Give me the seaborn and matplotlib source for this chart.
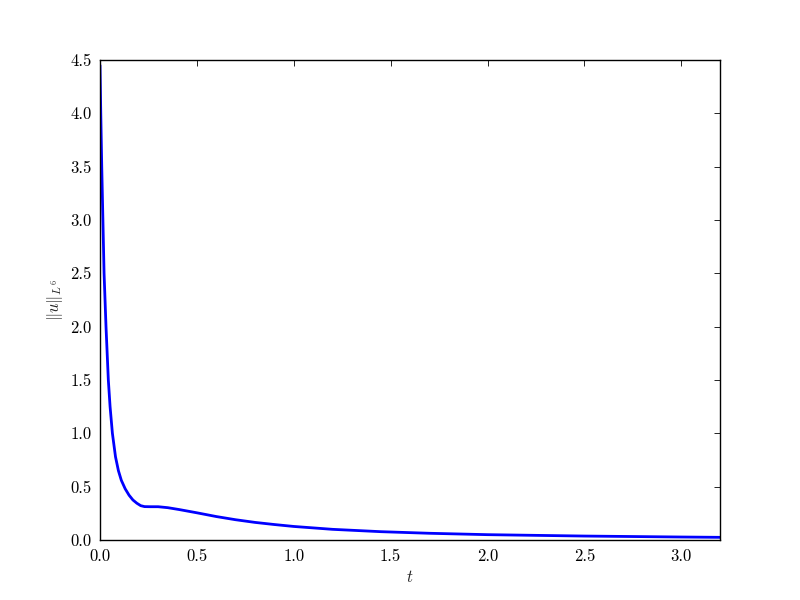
import numpy as np
import pandas as pd
import matplotlib
matplotlib.use("Agg")
import matplotlib.pyplot as plt
import seaborn as sns

# values
t = [0.0, 0.004, 0.009, 0.015, 0.021, 0.031, 0.043, 0.052, 0.064, 0.080,
     0.095, 0.11, 0.13, 0.15, 0.17, 0.19, 0.21, 0.23, 0.26, 0.30,
     0.35, 0.41, 0.50, 0.60, 0.70, 0.80, 0.90, 1.00, 1.20, 1.45,
     1.70, 2.00, 2.50, 3.00, 3.20]
u_norm = [4.45, 4.0, 3.5, 3.0, 2.5, 2.0, 1.5, 1.25, 1.0, 0.78,
          0.65, 0.56, 0.48, 0.42, 0.375, 0.345, 0.322, 0.313, 0.312, 0.312,
          0.303, 0.285, 0.255, 0.220, 0.190, 0.165, 0.145, 0.127, 0.100, 0.078,
          0.063, 0.050, 0.037, 0.028, 0.025]

x_ticks = [0.0, 0.5, 1.0, 1.5, 2.0, 2.5, 3.0]
y_ticks = [0.0, 0.5, 1.0, 1.5, 2.0, 2.5, 3.0, 3.5, 4.0, 4.5]

sns.set_theme(style="white")
plt.rcParams.update({
    "font.family": ["serif"],
    "font.serif": ["cmr10", "DejaVu Serif"],
    "mathtext.fontset": "cm",
    "axes.formatter.use_mathtext": True,
    "axes.edgecolor": "black",
    "axes.linewidth": 1.0,
    "xtick.direction": "in",
    "ytick.direction": "in",
    "xtick.top": True,
    "ytick.right": True,
    "xtick.major.size": 4,
    "ytick.major.size": 4,
    "xtick.major.width": 0.6,
    "ytick.major.width": 0.6,
    "xtick.major.pad": 6,
    "ytick.major.pad": 6,
    "xtick.labelsize": 12,
    "ytick.labelsize": 12,
    "axes.labelsize": 12,
    "xtick.color": "black",
    "ytick.color": "black",
})

df = pd.DataFrame({"t": t, "u": u_norm})

fig = plt.figure(figsize=(8, 6), dpi=100)
ax = fig.add_axes([0.125, 0.1, 0.775, 0.8])
sns.lineplot(data=df, x="t", y="u", color="#0000ff", linewidth=2, ax=ax)

ax.set_xlim(0, 3.2)
ax.set_ylim(0, 4.5)
ax.set_xticks(x_ticks)
ax.set_yticks(y_ticks)
ax.set_xticklabels([f"{v:.1f}" for v in x_ticks])
ax.set_yticklabels([f"{v:.1f}" for v in y_ticks])
ax.set_xlabel(r"$t$")
ax.set_ylabel(r"$\|u\|_{L^6}$")

fig.savefig("out.png", dpi=100)
